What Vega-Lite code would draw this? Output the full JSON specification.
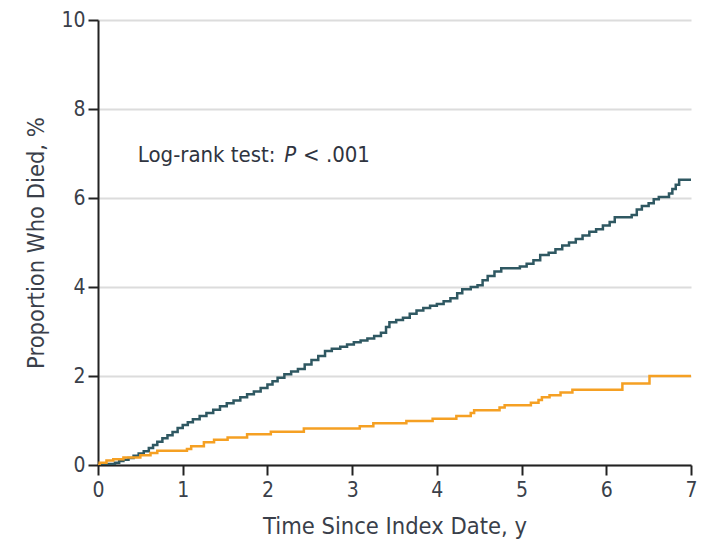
{
  "$schema": "https://vega.github.io/schema/vega-lite/v6.json",
  "autosize": {"type": "none"},
  "padding": {"left": 98, "top": 20, "right": 11, "bottom": 79},
  "width": 593,
  "height": 445,
  "background": "white",
  "config": {
    "view": {"stroke": null},
    "font": "Liberation Sans Narrow, DejaVu Sans Condensed, sans-serif",
    "axis": {
      "labelFont": "Liberation Sans Narrow, DejaVu Sans Condensed, sans-serif",
      "titleFont": "Liberation Sans Narrow, DejaVu Sans Condensed, sans-serif",
      "labelColor": "#3a3f4a",
      "titleColor": "#3a3f4a",
      "labelFontSize": 21,
      "titleFontSize": 23.5,
      "titleFontWeight": "normal",
      "domainColor": "#222222",
      "domainWidth": 2,
      "tickColor": "#222222",
      "tickWidth": 2,
      "tickSize": 10,
      "labelFlush": false,
      "format": "d"
    }
  },
  "datasets": {
    "curves": [
      {"t": 0, "v": 0, "g": "A"},
      {"t": 0.12, "v": 0.02, "g": "A"},
      {"t": 0.2, "v": 0.05, "g": "A"},
      {"t": 0.25, "v": 0.09, "g": "A"},
      {"t": 0.3, "v": 0.12, "g": "A"},
      {"t": 0.36, "v": 0.16, "g": "A"},
      {"t": 0.42, "v": 0.21, "g": "A"},
      {"t": 0.48, "v": 0.26, "g": "A"},
      {"t": 0.54, "v": 0.31, "g": "A"},
      {"t": 0.6, "v": 0.38, "g": "A"},
      {"t": 0.65, "v": 0.45, "g": "A"},
      {"t": 0.7, "v": 0.52, "g": "A"},
      {"t": 0.76, "v": 0.6, "g": "A"},
      {"t": 0.82, "v": 0.67, "g": "A"},
      {"t": 0.88, "v": 0.74, "g": "A"},
      {"t": 0.94, "v": 0.83, "g": "A"},
      {"t": 1.0, "v": 0.9, "g": "A"},
      {"t": 1.06, "v": 0.96, "g": "A"},
      {"t": 1.12, "v": 1.03, "g": "A"},
      {"t": 1.2, "v": 1.1, "g": "A"},
      {"t": 1.28, "v": 1.17, "g": "A"},
      {"t": 1.36, "v": 1.24, "g": "A"},
      {"t": 1.44, "v": 1.32, "g": "A"},
      {"t": 1.52, "v": 1.39, "g": "A"},
      {"t": 1.6, "v": 1.45, "g": "A"},
      {"t": 1.68, "v": 1.52, "g": "A"},
      {"t": 1.76, "v": 1.59, "g": "A"},
      {"t": 1.84, "v": 1.65, "g": "A"},
      {"t": 1.92, "v": 1.73, "g": "A"},
      {"t": 2.0, "v": 1.81, "g": "A"},
      {"t": 2.06, "v": 1.88, "g": "A"},
      {"t": 2.12, "v": 1.96, "g": "A"},
      {"t": 2.2, "v": 2.04, "g": "A"},
      {"t": 2.28, "v": 2.1, "g": "A"},
      {"t": 2.36, "v": 2.16, "g": "A"},
      {"t": 2.44, "v": 2.26, "g": "A"},
      {"t": 2.52, "v": 2.36, "g": "A"},
      {"t": 2.6, "v": 2.45, "g": "A"},
      {"t": 2.68, "v": 2.56, "g": "A"},
      {"t": 2.76, "v": 2.61, "g": "A"},
      {"t": 2.86, "v": 2.66, "g": "A"},
      {"t": 2.94, "v": 2.71, "g": "A"},
      {"t": 3.02, "v": 2.76, "g": "A"},
      {"t": 3.1, "v": 2.8, "g": "A"},
      {"t": 3.18, "v": 2.84, "g": "A"},
      {"t": 3.26, "v": 2.9, "g": "A"},
      {"t": 3.34, "v": 2.97, "g": "A"},
      {"t": 3.4, "v": 3.1, "g": "A"},
      {"t": 3.44, "v": 3.21, "g": "A"},
      {"t": 3.52, "v": 3.26, "g": "A"},
      {"t": 3.6, "v": 3.31, "g": "A"},
      {"t": 3.68, "v": 3.4, "g": "A"},
      {"t": 3.76, "v": 3.47, "g": "A"},
      {"t": 3.84, "v": 3.53, "g": "A"},
      {"t": 3.92, "v": 3.58, "g": "A"},
      {"t": 4.0, "v": 3.62, "g": "A"},
      {"t": 4.08, "v": 3.68, "g": "A"},
      {"t": 4.16, "v": 3.75, "g": "A"},
      {"t": 4.24, "v": 3.86, "g": "A"},
      {"t": 4.3, "v": 3.95, "g": "A"},
      {"t": 4.4, "v": 4.0, "g": "A"},
      {"t": 4.48, "v": 4.04, "g": "A"},
      {"t": 4.54, "v": 4.15, "g": "A"},
      {"t": 4.6, "v": 4.25, "g": "A"},
      {"t": 4.68, "v": 4.35, "g": "A"},
      {"t": 4.76, "v": 4.42, "g": "A"},
      {"t": 4.98, "v": 4.46, "g": "A"},
      {"t": 5.06, "v": 4.52, "g": "A"},
      {"t": 5.14, "v": 4.6, "g": "A"},
      {"t": 5.22, "v": 4.72, "g": "A"},
      {"t": 5.32, "v": 4.77, "g": "A"},
      {"t": 5.4, "v": 4.85, "g": "A"},
      {"t": 5.48, "v": 4.93, "g": "A"},
      {"t": 5.56, "v": 5.0, "g": "A"},
      {"t": 5.64, "v": 5.08, "g": "A"},
      {"t": 5.72, "v": 5.16, "g": "A"},
      {"t": 5.8, "v": 5.24, "g": "A"},
      {"t": 5.88, "v": 5.3, "g": "A"},
      {"t": 5.96, "v": 5.38, "g": "A"},
      {"t": 6.04, "v": 5.46, "g": "A"},
      {"t": 6.1, "v": 5.57, "g": "A"},
      {"t": 6.3, "v": 5.62, "g": "A"},
      {"t": 6.36, "v": 5.74, "g": "A"},
      {"t": 6.42, "v": 5.82, "g": "A"},
      {"t": 6.5, "v": 5.88, "g": "A"},
      {"t": 6.56, "v": 5.97, "g": "A"},
      {"t": 6.62, "v": 6.02, "g": "A"},
      {"t": 6.74, "v": 6.1, "g": "A"},
      {"t": 6.78, "v": 6.2, "g": "A"},
      {"t": 6.82, "v": 6.3, "g": "A"},
      {"t": 6.86, "v": 6.41, "g": "A"},
      {"t": 7.0, "v": 6.41, "g": "A"},
      {"t": 0, "v": 0, "g": "B"},
      {"t": 0.02, "v": 0.05, "g": "B"},
      {"t": 0.1, "v": 0.1, "g": "B"},
      {"t": 0.18, "v": 0.13, "g": "B"},
      {"t": 0.3, "v": 0.17, "g": "B"},
      {"t": 0.5, "v": 0.22, "g": "B"},
      {"t": 0.62, "v": 0.27, "g": "B"},
      {"t": 0.7, "v": 0.32, "g": "B"},
      {"t": 1.05, "v": 0.36, "g": "B"},
      {"t": 1.1, "v": 0.42, "g": "B"},
      {"t": 1.25, "v": 0.51, "g": "B"},
      {"t": 1.37, "v": 0.57, "g": "B"},
      {"t": 1.53, "v": 0.62, "g": "B"},
      {"t": 1.76, "v": 0.69, "g": "B"},
      {"t": 2.04, "v": 0.75, "g": "B"},
      {"t": 2.43, "v": 0.82, "g": "B"},
      {"t": 3.09, "v": 0.87, "g": "B"},
      {"t": 3.25, "v": 0.94, "g": "B"},
      {"t": 3.64, "v": 0.99, "g": "B"},
      {"t": 3.95, "v": 1.04, "g": "B"},
      {"t": 4.23, "v": 1.1, "g": "B"},
      {"t": 4.4, "v": 1.17, "g": "B"},
      {"t": 4.44, "v": 1.23, "g": "B"},
      {"t": 4.74, "v": 1.29, "g": "B"},
      {"t": 4.8, "v": 1.34, "g": "B"},
      {"t": 5.11, "v": 1.4, "g": "B"},
      {"t": 5.2, "v": 1.46, "g": "B"},
      {"t": 5.24, "v": 1.52, "g": "B"},
      {"t": 5.33, "v": 1.57, "g": "B"},
      {"t": 5.46, "v": 1.63, "g": "B"},
      {"t": 5.6, "v": 1.69, "g": "B"},
      {"t": 6.19, "v": 1.83, "g": "B"},
      {"t": 6.51, "v": 2.0, "g": "B"},
      {"t": 7.0, "v": 2.0, "g": "B"}
    ],
    "notes": [
      {"t": 0.47, "v": 6.97, "txt": "Log-rank test:", "style": "normal"},
      {"t": 2.2, "v": 6.97, "txt": "P", "style": "italic"},
      {"t": 2.42, "v": 6.97, "txt": "< .001", "style": "normal"}
    ]
  },
  "layer": [
    {
      "data": {"name": "curves"},
      "mark": {"type": "line", "interpolate": "step-after", "strokeWidth": 2.5, "clip": true},
      "encoding": {
        "x": {
          "field": "t", "type": "quantitative",
          "scale": {"domain": [0, 7], "nice": false, "zero": false},
          "axis": {"values": [0, 1, 2, 3, 4, 5, 6, 7], "grid": false, "title": "Time Since Index Date, y", "labelPadding": 4, "titlePadding": 14}
        },
        "y": {
          "field": "v", "type": "quantitative",
          "scale": {"domain": [0, 10], "nice": false},
          "axis": {"values": [0, 2, 4, 6, 8, 10], "grid": true, "gridColor": "#dcdcdc", "gridWidth": 2, "title": "Proportion Who Died, %", "labelPadding": 3, "titlePadding": 12}
        },
        "color": {
          "field": "g", "type": "nominal",
          "scale": {"domain": ["A", "B"], "range": ["#2f5862", "#f5a023"]},
          "legend": null
        }
      }
    },
    {
      "data": {"name": "notes"},
      "transform": [{"filter": "datum.style == 'normal'"}],
      "mark": {"type": "text", "align": "left", "baseline": "middle", "fontSize": 22, "color": "#2f3440"},
      "encoding": {
        "x": {"field": "t", "type": "quantitative"},
        "y": {"field": "v", "type": "quantitative"},
        "text": {"field": "txt"}
      }
    },
    {
      "data": {"name": "notes"},
      "transform": [{"filter": "datum.style == 'italic'"}],
      "mark": {"type": "text", "align": "left", "baseline": "middle", "fontSize": 22, "fontStyle": "italic", "color": "#2f3440"},
      "encoding": {
        "x": {"field": "t", "type": "quantitative"},
        "y": {"field": "v", "type": "quantitative"},
        "text": {"field": "txt"}
      }
    }
  ]
}
